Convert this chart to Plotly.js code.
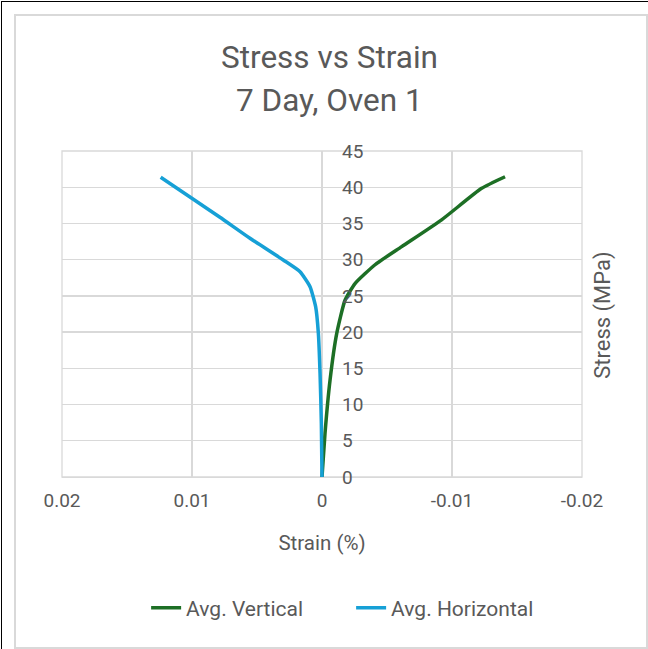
<!DOCTYPE html>
<html>
<head>
<meta charset="utf-8">
<script src="https://cdn.plot.ly/plotly-3.0.1.min.js"></script>
<style>
html,body{margin:0;padding:0;background:#fff;}
#wrap{position:relative;width:648px;height:649px;overflow:hidden;}
#chart{position:absolute;left:0;top:0;width:648px;height:649px;}
.ln{position:absolute;pointer-events:none;}
</style>
</head>
<body>
<div id="wrap">
<div id="chart"></div>
<div class="ln" style="left:1px;top:1px;width:647px;height:1px;background:#000;"></div>
<div class="ln" style="left:1px;top:1px;width:1px;height:648px;background:#000;"></div>
<div class="ln" style="left:14px;top:14px;width:630px;height:631px;border:2px solid #d9d9d9;"></div>
</div>
<script>
// Avg. Vertical (strain %, stress MPa)
const vertStrain = [0, -0.00023, -0.00062, -0.00113, -0.00177, -0.00254, -0.00408, -0.00613, -0.0092, -0.01228, -0.01408];
const vertStress = [0, 6.0, 13.4, 19.8, 24.4, 26.7, 29.3, 31.8, 35.5, 39.85, 41.45];
// Avg. Horizontal
const horStrain = [0, 0.00005, 0.00015, 0.00028, 0.00049, 0.00092, 0.00169, 0.00298, 0.00554, 0.00785, 0.0099, 0.01241];
const horStress = [0, 7.4, 14.3, 19.84, 23.51, 26.27, 28.34, 29.96, 32.95, 35.85, 38.33, 41.37];
const xTickVals = [0.02, 0.01, 0, -0.01, -0.02];
const xTickText = ["0.02", "0.01", "0", "-0.01", "-0.02"];
const yTickVals = [0, 5, 10, 15, 20, 25, 30, 35, 40, 45];

const FONT = "Roboto, 'Open Sans', sans-serif";
const GRID = "#d9d9d9";
const TXT = "#595959";
const traces = [
  {x: vertStrain, y: vertStress, name: "Avg. Vertical", mode: "lines", type: "scatter",
   line: {color: "#1d6f25", width: 3.5, shape: "spline", smoothing: 0.5}},
  {x: horStrain, y: horStress, name: "Avg. Horizontal", mode: "lines", type: "scatter",
   line: {color: "#16a0d6", width: 3.5, shape: "spline", smoothing: 0.5}}
];
const layout = {
  width: 648, height: 649,
  margin: {l: 62, r: 66, t: 151, b: 172},
  paper_bgcolor: "#fff", plot_bgcolor: "#fff",
  showlegend: true,
  font: {family: FONT, color: TXT},
  xaxis: {range: [0.02, -0.02], tickvals: xTickVals, ticktext: xTickText,
    showgrid: true, gridcolor: GRID, gridwidth: 1.3, zeroline: false,
    showline: true, linecolor: GRID, linewidth: 1.3, ticks: "",
    tickfont: {size: 19, color: TXT}, ticklabelstandoff: 6,
    title: {text: "Strain (%)", font: {size: 20.5, color: TXT}, standoff: 24}},
  yaxis: {range: [0, 45], tickvals: yTickVals, anchor: "free", position: 0.5, side: "right",
    showgrid: true, gridcolor: GRID, gridwidth: 1.3, zeroline: false, showline: false,
    ticks: "", ticklabelstandoff: 19, tickfont: {size: 19, color: TXT}},
  legend: {orientation: "h", x: 0.556, xanchor: "center", y: -0.402, yanchor: "middle",
    entrywidth: 160, entrywidthmode: "pixels",
    font: {size: 21, color: TXT}},
  shapes: [
    {type: "rect", xref: "paper", yref: "paper", x0: 0, x1: 1, y0: 0, y1: 1,
     line: {color: GRID, width: 1.3}, layer: "below"}
  ],
  annotations: [
    {text: "Stress vs Strain", xref: "paper", yref: "paper", x: 0.515, y: 1.288, showarrow: false,
     xanchor: "center", yanchor: "middle", font: {size: 31.5, color: TXT}},
    {text: "7 Day, Oven 1", xref: "paper", yref: "paper", x: 0.515, y: 1.156, showarrow: false,
     xanchor: "center", yanchor: "middle", font: {size: 31.5, color: TXT}},
    {text: "Stress (MPa)", xref: "paper", yref: "paper", x: 1.04, y: 0.497, showarrow: false,
     textangle: -90, xanchor: "center", yanchor: "middle", font: {size: 22, color: TXT}}
  ]
};
Plotly.newPlot("chart", traces, layout, {displayModeBar: false, staticPlot: true});
</script>
</body>
</html>
